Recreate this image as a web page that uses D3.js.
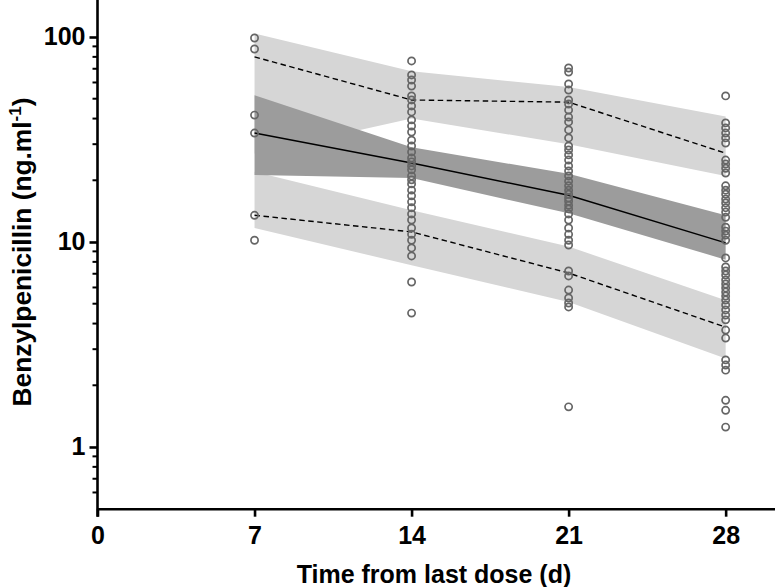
<!DOCTYPE html>
<html><head><meta charset="utf-8">
<script src="https://cdn.jsdelivr.net/npm/d3@7"></script>
<style>body{margin:0;background:#fff}svg{display:block}text{font-family:"Liberation Sans",Arial,sans-serif;font-weight:bold}</style>
</head><body><svg id="c" width="775" height="587"></svg>
<script>
const days = [7, 14, 21, 28];
const obs7 = [98.9, 87.4, 41.6, 34.0, 13.5, 10.2];
const obs14 = [76.4, 65.3, 61.7, 57.6, 51.6, 49.3, 46.1, 43.1, 39.4, 36.8, 34.4, 31.4, 29.4, 27.5, 25.7, 24.6, 23.5, 22.5, 21.0, 20.1, 19.2, 17.9, 16.8, 15.7, 14.7, 13.7, 12.8, 11.7, 10.9, 10.2, 9.35, 8.55, 6.38, 4.5];
const obs21 = [70.6, 67.5, 59, 55.1, 49.3, 47.1, 44.0, 40.7, 38.5, 35.2, 32.2, 29.4, 28.1, 26.6, 25.1, 23.5, 22.2, 21.0, 19.8, 18.8, 17.9, 17.1, 16.4, 15.8, 15.1, 14.5, 13.7, 12.8, 11.7, 10.9, 10.2, 9.67, 7.22, 6.83, 5.83, 5.33, 5.04, 4.82, 1.57];
const obs28 = [51.6, 38.1, 36.0, 34.0, 32.2, 30.4, 25.1, 24.0, 22.9, 21.7, 18.8, 17.9, 17.1, 16.2, 15.5, 14.7, 14.0, 13.2, 11.8, 11.3, 10.8, 10.2, 8.36, 7.55, 7.22, 6.90, 6.53, 6.24, 5.97, 5.70, 5.45, 5.21, 4.93, 4.66, 4.40, 4.17, 3.72, 3.40, 2.66, 2.51, 2.37, 1.69, 1.51, 1.25];
const median = [34, 24.3, 16.9, 9.9];
const p95 = [80, 49.3, 48.1, 27.1];
const p5 = [13.5, 11.2, 7.06, 3.84];
const upperHi = [104, 68, 57, 41];
const upperLo = [27, 40, 30, 21];
const midHi = [52, 29, 21.5, 13.5];
const midLo = [21.2, 20.5, 13.8, 8.2];
const lowerHi = [22, 14.3, 9.5, 5.2];
const lowerLo = [11.7, 7.7, 5.1, 2.7];
const xTicks = [0, 7, 14, 21, 28];
const yTicks = [1, 10, 100];
const yMinorTicks = [0.6, 0.7, 0.8, 0.9, 2, 3, 4, 5, 6, 7, 8, 9, 20, 30, 40, 50, 60, 70, 80, 90];

const svg = d3.select("#c");
const x = d3.scaleLinear().domain([0, 30.2]).range([97.5, 775]);
const y = d3.scaleLog().domain([0.5, 150]).range([508.7, 0.9]);
const y0 = y(0.5);

function band(hi, lo, fill){
  const data = days.map((d,i)=>({d, hi:hi[i], lo:lo[i]}));
  svg.append("path").datum(data)
    .attr("d", d3.area().x(p=>x(p.d)).y0(p=>y(p.lo)).y1(p=>y(p.hi)))
    .attr("fill", fill);
}
band(upperHi, upperLo, "#d6d6d6");
band(lowerHi, lowerLo, "#d6d6d6");
band(midHi, midLo, "#9c9c9c");

function line(vals, dash){
  svg.append("path").datum(days.map((d,i)=>[d, vals[i]]))
    .attr("d", d3.line().x(p=>x(p[0])).y(p=>y(p[1])))
    .attr("fill","none").attr("stroke","#000").attr("stroke-width",1.4)
    .attr("stroke-dasharray", dash ? "5.5,3.5" : null);
}
line(p95, true); line(p5, true); line(median, false);

const obs = [[7,obs7],[14,obs14],[21,obs21],[28,obs28]];
obs.forEach(([d, arr]) => {
  svg.append("g").selectAll("circle").data(arr).join("circle")
    .attr("cx", x(d)).attr("cy", v=>y(v)).attr("r", 3.6)
    .attr("fill","none").attr("stroke","#666").attr("stroke-width",1.7);
});

// axes
const xAxis = d3.axisBottom(x).tickValues(xTicks).tickSize(8).tickSizeOuter(0).tickPadding(10);
const gx = svg.append("g").attr("transform", `translate(0,${y0})`).call(xAxis);
gx.select(".domain").attr("stroke-width", 2.6);
gx.selectAll(".tick line").attr("stroke-width", 2.6);
gx.selectAll("text").attr("font-size", 25).attr("fill","#000");

const yAxis = d3.axisLeft(y).tickValues(yTicks).tickFormat(d3.format("d")).tickSize(8).tickSizeOuter(0).tickPadding(4);
const gy = svg.append("g").attr("transform", `translate(${x(0)},0)`).call(yAxis);
gy.select(".domain").attr("stroke-width", 2.6).attr("d", `M0,0V${y0+8}`);
gy.selectAll(".tick line").attr("stroke-width", 2.6);
gy.selectAll("text").attr("font-size", 25).attr("fill","#000");
gy.append("g").selectAll("line").data(yMinorTicks).join("line")
  .attr("x1",-5).attr("x2",0).attr("y1",v=>y(v)).attr("y2",v=>y(v))
  .attr("stroke","#000").attr("stroke-width",2);

svg.append("text").attr("x", 434).attr("y", 583).attr("text-anchor","middle")
  .attr("font-size", 25).text("Time from last dose (d)");
const yt = svg.append("text").attr("transform","translate(31,252) rotate(-90)")
  .attr("text-anchor","middle").attr("font-size",26.3);
yt.append("tspan").text("Benzylpenicillin (ng.ml");
yt.append("tspan").attr("dy",-10).attr("font-size",17).text("-1");
yt.append("tspan").attr("dy",10).text(")");
</script></body></html>
